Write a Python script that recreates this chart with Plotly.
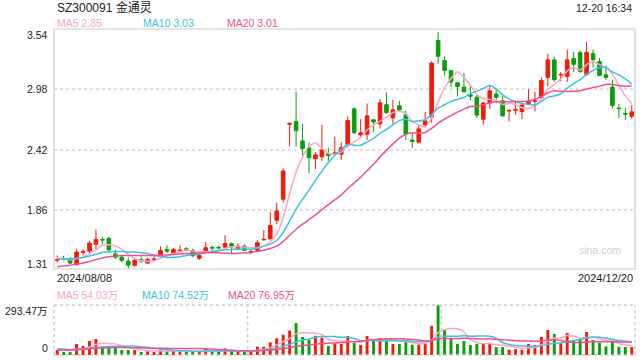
import pandas as pd
import plotly.graph_objects as go

# ---------------- data ----------------
first_date = "2024/08/08"
last_date = "2024/12/20"
title_text = "SZ300091 金通灵"
stamp_text = "12-20 16:34"

open_ = [1.392, 1.407, 1.405, 1.352, 1.465, 1.477, 1.541, 1.585, 1.594, 1.450,
         1.420, 1.383, 1.344, 1.397, 1.365, 1.398, 1.427, 1.492, 1.460, 1.480,
         1.497, 1.483, 1.410, 1.467, 1.510, 1.510, 1.511, 1.545, 1.495, 1.523,
         1.468, 1.483, 1.580, 1.592, 1.763, 1.959, 2.655, 2.680, 2.500, 2.435,
         2.335, 2.353, 2.380, 2.380, 2.376, 2.460, 2.798, 2.556, 2.562, 2.696,
         2.659, 2.836, 2.714, 2.826, 2.743, 2.509, 2.488, 2.650, 2.721, 3.433,
         3.246, 3.153, 3.041, 3.000, 2.929, 2.907, 2.702, 2.852, 2.936, 2.873,
         2.778, 2.784, 2.773, 2.845, 2.868, 2.900, 3.090, 3.253, 3.113, 3.100,
         3.265, 3.321, 3.118, 3.311, 3.237, 3.115, 3.000, 2.805, 2.755, 2.730]
high = [1.436, 1.433, 1.420, 1.500, 1.492, 1.570, 1.676, 1.607, 1.610, 1.489,
        1.443, 1.418, 1.415, 1.427, 1.415, 1.434, 1.520, 1.530, 1.505, 1.530,
        1.514, 1.499, 1.449, 1.564, 1.530, 1.530, 1.623, 1.555, 1.548, 1.539,
        1.492, 1.577, 1.670, 1.840, 1.925, 2.245, 2.664, 2.960, 2.658, 2.484,
        2.395, 2.650, 2.437, 2.540, 2.488, 2.727, 2.810, 2.702, 2.848, 2.700,
        2.889, 2.951, 2.880, 2.873, 2.780, 2.571, 2.650, 2.770, 3.240, 3.510,
        3.286, 3.160, 3.045, 3.131, 3.022, 2.929, 2.860, 3.022, 2.991, 2.920,
        2.800, 2.873, 2.840, 2.982, 2.957, 3.090, 3.309, 3.280, 3.140, 3.349,
        3.327, 3.342, 3.420, 3.349, 3.271, 3.200, 3.069, 2.845, 2.805, 2.836]
low = [1.370, 1.390, 1.357, 1.340, 1.436, 1.458, 1.495, 1.540, 1.464, 1.402,
       1.370, 1.315, 1.334, 1.365, 1.360, 1.383, 1.415, 1.458, 1.458, 1.477,
       1.474, 1.420, 1.393, 1.464, 1.477, 1.495, 1.495, 1.455, 1.486, 1.477,
       1.446, 1.471, 1.577, 1.583, 1.726, 1.928, 2.450, 2.447, 2.363, 2.199,
       2.239, 2.313, 2.316, 2.379, 2.326, 2.441, 2.562, 2.540, 2.509, 2.584,
       2.615, 2.752, 2.659, 2.770, 2.509, 2.432, 2.478, 2.633, 2.671, 3.215,
       3.109, 3.000, 2.913, 2.951, 2.876, 2.712, 2.650, 2.798, 2.852, 2.721,
       2.680, 2.743, 2.702, 2.836, 2.773, 2.889, 3.006, 3.050, 3.053, 3.047,
       3.140, 3.131, 3.106, 3.184, 3.100, 3.069, 2.801, 2.712, 2.696, 2.708]
close = [1.398, 1.402, 1.365, 1.467, 1.470, 1.550, 1.585, 1.580, 1.489, 1.420,
         1.390, 1.346, 1.390, 1.385, 1.400, 1.402, 1.483, 1.475, 1.492, 1.485,
         1.493, 1.433, 1.436, 1.508, 1.505, 1.506, 1.548, 1.514, 1.523, 1.483,
         1.473, 1.555, 1.585, 1.714, 1.850, 2.220, 2.664, 2.596, 2.430, 2.344,
         2.370, 2.416, 2.365, 2.387, 2.437, 2.689, 2.577, 2.575, 2.733, 2.677,
         2.854, 2.764, 2.789, 2.789, 2.565, 2.495, 2.612, 2.686, 3.223, 3.286,
         3.156, 3.047, 3.006, 2.957, 2.915, 2.740, 2.852, 2.966, 2.905, 2.733,
         2.782, 2.790, 2.833, 2.870, 2.872, 3.062, 3.253, 3.069, 3.118, 3.253,
         3.212, 3.146, 3.321, 3.255, 3.109, 3.090, 2.830, 2.800, 2.750, 2.770]
volume = [29.3, 17.6, 17.6, 64.5, 52.8, 82.0, 94.0, 52.8, 52.8, 45.0,
          29.3, 29.3, 29.3, 17.6, 21.5, 17.6, 39.0, 21.5, 23.5, 21.5,
          17.6, 23.5, 17.6, 35.2, 21.5, 17.6, 39.0, 23.5, 17.6, 21.5,
          23.5, 49.0, 49.0, 74.0, 98.0, 119.0, 143.0, 188.0, 106.0, 90.0,
          113.0, 102.0, 52.8, 68.5, 64.5, 111.5, 76.0, 58.7, 111.5, 92.0,
          100.0, 88.0, 64.5, 64.5, 78.0, 60.6, 62.0, 70.0, 170.0, 293.47,
          147.0, 96.0, 64.5, 82.0, 58.7, 64.5, 64.5, 64.5, 47.0, 47.0,
          31.2, 35.0, 31.0, 64.5, 58.7, 106.0, 147.0, 123.0, 68.5, 129.0,
          88.0, 92.0, 135.0, 88.0, 72.0, 50.0, 78.0, 48.0, 47.0, 47.15]
# closes / volumes of the 19 sessions before the window (needed for the moving averages)
prior_close = [1.24, 1.25, 1.23, 1.26, 1.27, 1.25, 1.26, 1.28, 1.27, 1.29,
               1.35, 1.38, 1.40, 1.41, 1.41, 1.42, 1.41, 1.42, 1.40]
prior_volume = [22, 25, 20, 24, 21, 23, 26, 22, 24, 23,
                38, 45, 42, 40, 40, 36, 33, 35, 31.7]

price_ticks = [3.54, 2.98, 2.42, 1.86, 1.31]
vol_max = 293.47
ma_periods = [5, 10, 20]
ma_colors = ["#ffa3c4", "#3cc3e3", "#f0508c"]

RED = "#f21a0a"
GREEN = "#0b9e0b"
FONT = "Liberation Sans, Arial, Noto Sans CJK SC, sans-serif"


def moving_avg(prior, vals, n):
    s = pd.Series(list(prior) + list(vals), dtype=float)
    return s.rolling(n).mean().iloc[len(prior):].to_numpy()


n = len(close)
x = list(range(n))
up = [c >= o for o, c in zip(open_, close)]
vcolors = [RED if u else GREEN for u in up]

price_ma = {p: moving_avg(prior_close, close, p) for p in ma_periods}
vol_ma = {p: moving_avg(prior_volume, volume, p) for p in ma_periods}

# ---------------- layout geometry (pixels) ----------------
W, H = 640, 360
L, R, T, B = 54, 5, 29, 5
PW, PH = W - L - R, H - T - B
MAIN_BOTTOM_PX, VOL_TOP_PX = 269, 305


def px(xp):
    return (xp - L) / PW


def py(yp):
    return (H - B - yp) / PH


main_dom = [py(MAIN_BOTTOM_PX), 1.0]
vol_dom = [0.0, py(VOL_TOP_PX)]

fig = go.Figure()

fig.add_trace(go.Candlestick(
    x=x, open=open_, high=high, low=low, close=close,
    increasing=dict(line=dict(color=RED, width=1), fillcolor=RED),
    decreasing=dict(line=dict(color=GREEN, width=1), fillcolor=GREEN),
    whiskerwidth=0, xaxis="x", yaxis="y", showlegend=False, hoverinfo="skip"))

for p, col in zip(ma_periods, ma_colors):
    fig.add_trace(go.Scatter(x=x, y=price_ma[p], mode="lines",
                             line=dict(color=col, width=1.5, shape="spline", smoothing=0.6),
                             xaxis="x", yaxis="y", showlegend=False, hoverinfo="skip"))

fig.add_trace(go.Bar(x=x, y=volume, marker=dict(color=vcolors, line=dict(width=0)),
                     width=0.45, xaxis="x2", yaxis="y2", showlegend=False, hoverinfo="skip"))

for p, col in zip(ma_periods, ma_colors):
    fig.add_trace(go.Scatter(x=x, y=vol_ma[p], mode="lines",
                             line=dict(color=col, width=1.5, shape="spline", smoothing=0.8),
                             xaxis="x2", yaxis="y2", showlegend=False, hoverinfo="skip"))

ax_common = dict(range=[-0.5, n - 0.5], showgrid=False, zeroline=False,
                 showticklabels=False, ticks="", showline=False, fixedrange=True)

fig.update_layout(
    width=W, height=H,
    margin=dict(l=L, r=R, t=T, b=B, pad=0),
    paper_bgcolor="white", plot_bgcolor="white",
    boxgap=0.2,
    font=dict(family=FONT, size=11, color="#333"),
    xaxis=dict(domain=[0, 1], anchor="y", rangeslider=dict(visible=False), **ax_common),
    xaxis2=dict(domain=[0, 1], anchor="y2", matches="x", **ax_common),
    yaxis=dict(domain=main_dom, range=[price_ticks[-1], price_ticks[0]],
               tickvals=price_ticks[1:-1], showticklabels=False, ticks="",
               showgrid=True, gridcolor="#dddddd", gridwidth=2, griddash="dot",
               zeroline=False, showline=False, fixedrange=True),
    yaxis2=dict(domain=vol_dom, range=[0, vol_max], showgrid=False,
                showticklabels=False, ticks="", zeroline=False, showline=False,
                fixedrange=True),
)

shapes = []
# main panel border
shapes.append(dict(type="rect", xref="paper", yref="paper", x0=0, x1=1,
                   y0=main_dom[0], y1=main_dom[1], line=dict(color="#cccccc", width=1.2)))
# volume panel dotted frame + third-lines
dot = dict(color="#cccccc", width=1.5, dash="dot")
shapes.append(dict(type="line", xref="paper", yref="paper", x0=0, x1=1, y0=vol_dom[1], y1=vol_dom[1], line=dot))
shapes.append(dict(type="line", xref="paper", yref="paper", x0=0, x1=1, y0=0, y1=0, line=dot))
for fx in [0, 1 / 3, 2 / 3, 1]:
    shapes.append(dict(type="line", xref="paper", yref="paper", x0=fx, x1=fx,
                       y0=0, y1=vol_dom[1], line=dot))
fig.update_layout(shapes=shapes)

ann = []


def text(s, xp, yp, anchor="left", size=10.5, color="#333"):
    ann.append(dict(text=s, x=px(xp), y=py(yp), xref="paper", yref="paper",
                    xanchor=anchor, yanchor="middle", showarrow=False,
                    font=dict(size=size, color=color, family=FONT)))


text(title_text, 55, 8, size=12, color="#222")
text(stamp_text, 634, 8, anchor="right", size=10.5, color="#222")

last = n - 1
text(f"MA5 {price_ma[5][last]:.2f}", 55, 23.5, color=ma_colors[0])
text(f"MA10 {price_ma[10][last]:.2f}", 141, 23.5, color=ma_colors[1])
text(f"MA20 {price_ma[20][last]:.2f}", 225, 23.5, color=ma_colors[2])

# price tick labels (tied to the price scale)
shifts = {price_ticks[0]: -6, price_ticks[-1]: 5}
for v in price_ticks:
    ann.append(dict(text=f"{v:.2f}", x=px(50), y=v, xref="paper", yref="y",
                    xanchor="right", yanchor="middle", showarrow=False,
                    yshift=shifts.get(v, 0), font=dict(size=10.5, color="#222", family=FONT)))

text(first_date, 55, 278, size=11, color="#222")
text(last_date, 635, 278, anchor="right", size=11, color="#222")
text("sina.com", 623, 249.5, anchor="right", size=10.5, color="#cfcfcf")

text(f"MA5 {vol_ma[5][last]:.2f}万", 55, 295, color=ma_colors[0])
text(f"MA10 {vol_ma[10][last]:.2f}万", 140, 295, color=ma_colors[1])
text(f"MA20 {vol_ma[20][last]:.2f}万", 226, 295, color=ma_colors[2])

ann.append(dict(text=f"{vol_max:.2f}万", x=px(50), y=vol_max, xref="paper", yref="y2",
                xanchor="right", yanchor="middle", showarrow=False, yshift=-6,
                font=dict(size=10.5, color="#222", family=FONT)))
ann.append(dict(text="0", x=px(50), y=0, xref="paper", yref="y2",
                xanchor="right", yanchor="middle", showarrow=False, yshift=7,
                font=dict(size=10.5, color="#222", family=FONT)))

fig.update_layout(annotations=ann)

fig.write_html("out.html", config=dict(displayModeBar=False, staticPlot=True))
